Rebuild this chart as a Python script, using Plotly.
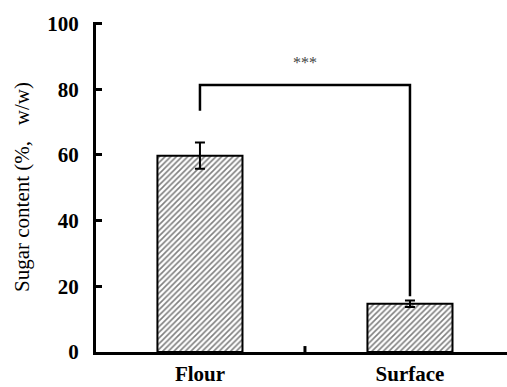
import plotly.graph_objects as go

categories = ["Flour", "Surface"]
values = [59.8, 14.7]
errors = [4.0, 1.0]
y_ticks = [0, 20, 40, 60, 80, 100]
sig_label = "***"
bracket_left_bottom = 73.5
bracket_top = 81.3
bracket_right_bottom = 17.0
y_title = "Sugar content (%,   w/w)"

fig = go.Figure()
fig.add_trace(go.Bar(
    x=[0, 1], y=values, width=0.405,
    marker=dict(color="white", line=dict(color="black", width=2),
                pattern=dict(shape="/", fgcolor="black", bgcolor="white", size=4, solidity=0.4)),
    error_y=dict(type="data", array=errors, color="black", thickness=2, width=5),
    showlegend=False,
))
fig.add_trace(go.Scatter(
    x=[0, 0, 1, 1],
    y=[bracket_left_bottom, bracket_top, bracket_top, bracket_right_bottom],
    mode="lines", line=dict(color="black", width=2.5), showlegend=False,
))
fig.add_annotation(x=0.5, y=bracket_top + 7, text=sig_label, showarrow=False,
                   font=dict(family="Liberation Serif", size=16, color="#444"))

fig.update_layout(
    width=507, height=387, margin=dict(l=96, r=0, t=22, b=35),
    paper_bgcolor="white", plot_bgcolor="white",
    font=dict(family="Liberation Serif", color="black"),
    xaxis=dict(range=[-0.495, 1.462], tickvals=[0, 1], ticktext=[f"<b>{c}</b>" for c in categories],
               showline=True, linecolor="black", linewidth=3, showgrid=False, zeroline=False,
               tickfont=dict(size=21, family="Liberation Serif"), ticks="", ticklabelstandoff=1,
               automargin=False),
    yaxis=dict(range=[0, 100.5], tickvals=y_ticks, ticktext=[f"<b>{t}</b>" for t in y_ticks],
               showline=True, linecolor="black", linewidth=3, showgrid=False, zeroline=False,
               ticks="inside", ticklen=6, tickwidth=3, tickcolor="black",
               tickfont=dict(size=21, family="Liberation Serif"), ticklabelstandoff=10,
               title=dict(text=y_title, font=dict(size=21, family="Liberation Serif"), standoff=12),
               automargin=False),
)
fig.add_shape(type="line", xref="x", yref="paper", x0=0.5, x1=0.5, y0=0, y1=0.018,
              line=dict(color="black", width=3))
fig.write_html("out.html")
